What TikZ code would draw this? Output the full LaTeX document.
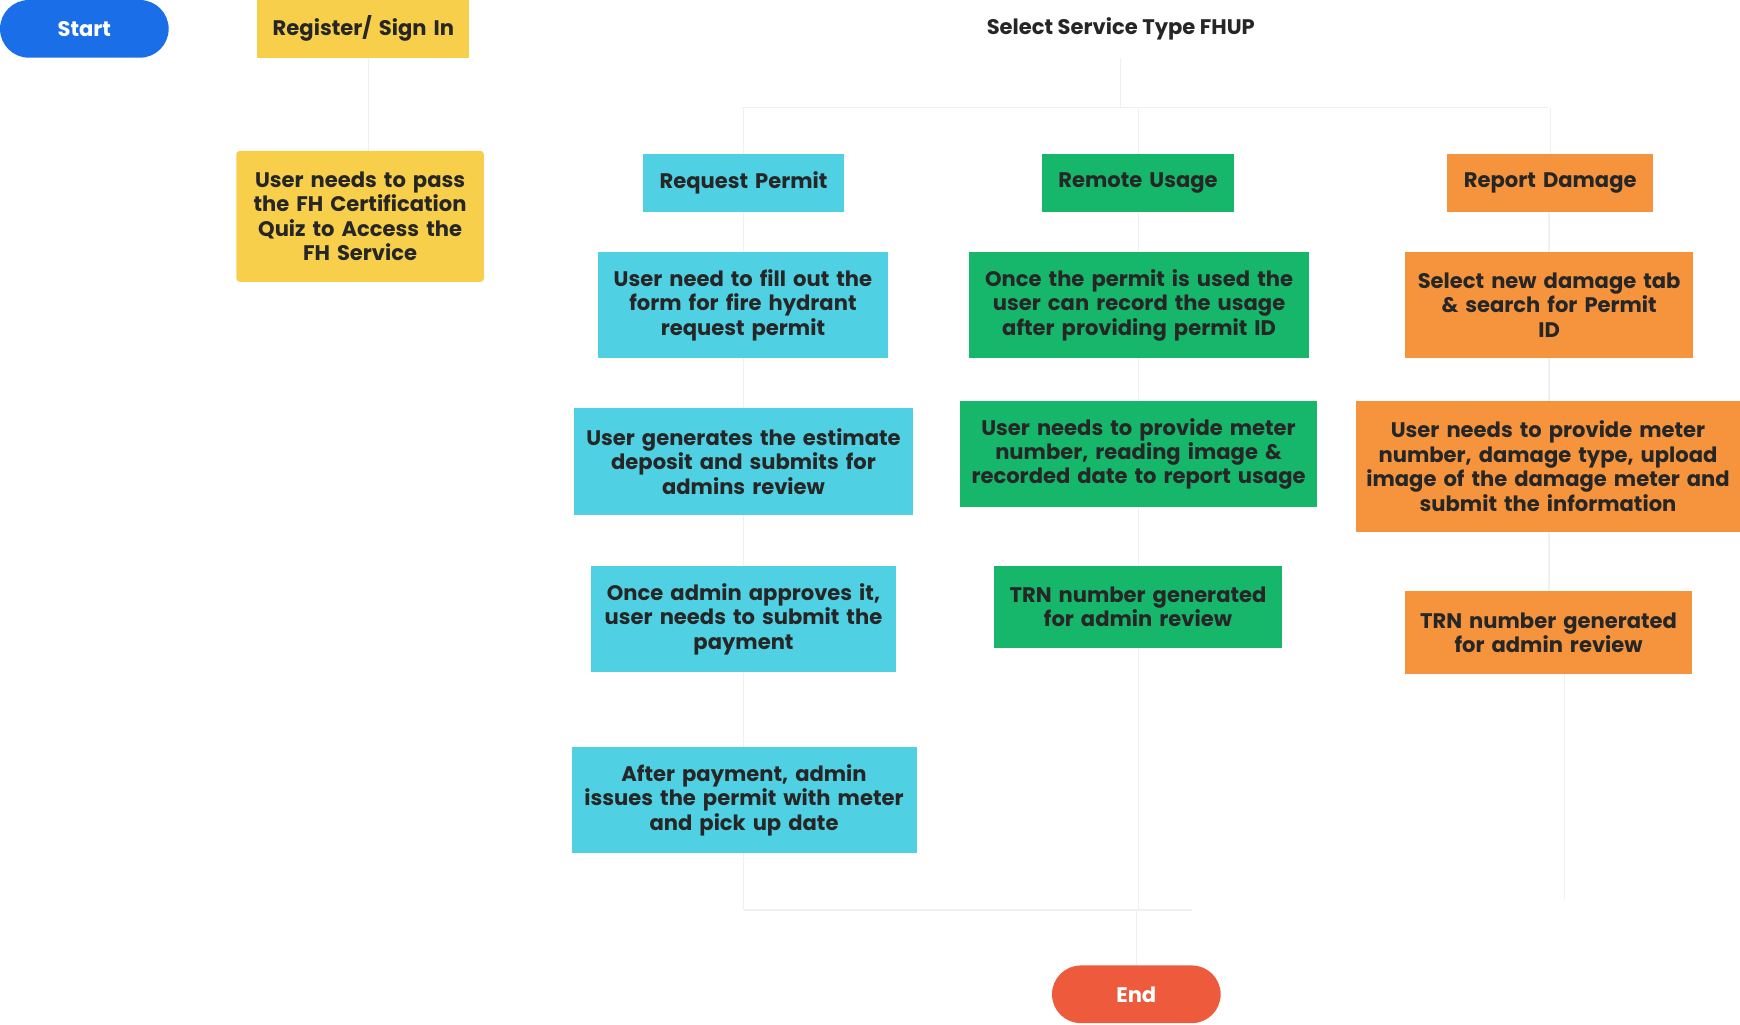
\documentclass[tikz,border=0pt]{standalone}
\usepackage{fontspec}
\setmainfont{Poppins}
\begin{document}
\begin{tikzpicture}[x=1pt,y=-1pt,
 box/.style={draw=none,align=center,font=\fontsize{19}{22}\selectfont\bfseries,text=black!85,inner sep=0pt},
 cy/.style={box,fill=cyan!60!white!95!black},
 ln/.style={draw=black!6,line width=1.2pt}]
\definecolor{cyb}{HTML}{4FD0E3}\definecolor{grb}{HTML}{16B76A}\definecolor{orb}{HTML}{F5943D}
\definecolor{yeb}{HTML}{F7CF4B}\definecolor{blb}{HTML}{1A6FE8}\definecolor{reb}{HTML}{EE5A3C}
\useasboundingbox (0,0) rectangle (1568,923);
\newcommand\bx[7]{\node[box,fill=#6,minimum width=#3-#2,minimum height=#5-#4,text width=#3-#2-24,#7] (#1) at ({(#2+#3)/2},{(#4+#5)/2}) {};}
\newcommand\bt[2]{\node[box,text width=330,text=black!85] at (#1) {#2};}
% connectors
\coordinate (s1) at (1010,52);\coordinate (s2) at (1010,97);
\coordinate (h1) at (668,97);\coordinate (h2) at (1395,97);
\draw[ln] (332,52) -- (332,136);
\draw[ln] (s1)--(s2) (h1)--(h2);
\draw[ln] (670,97)--(670,139) (1026,97)--(1026,139) (1397,97)--(1397,139);
\draw[ln] (670,191)--(670,227) (670,323)--(670,368) (670,464)--(670,510) (670,606)--(670,673) (670,769)--(670,820);
\draw[ln] (1026,191)--(1026,227) (1026,323)--(1026,361) (1026,457)--(1026,510) (1026,584)--(1026,820);
\draw[ln] (1396,191)--(1396,227) (1396,323)--(1396,361) (1396,479)--(1396,533) (1410,607)--(1410,810);
\draw[ln] (670,820)--(1074,820) (1024,820)--(1024,870);
% nodes
\node[box,fill=blb,rounded corners=26pt,minimum width=152,minimum height=52,text=white] (start) at (76,26) {Start};
\bx{reg}{232}{423}{0}{52}{yeb}{}\bt{reg}{Register/ Sign In}
\bx{quiz}{213}{436}{136}{254}{yeb}{rounded corners=3pt}\bt{quiz}{User needs to pass\\the FH Certification\\Quiz to Access the\\FH Service}
\node[box] (sel) at (1010,26) {Select Service Type FHUP};
\bx{rp}{579}{761}{139}{191}{cyb}{}\bt{rp}{Request Permit}
\bx{ru}{939}{1112}{139}{191}{grb}{}\bt{ru}{Remote Usage}
\bx{rd}{1304}{1490}{139}{191}{orb}{}\bt{rd}{Report Damage}
\bx{c1}{539}{800}{227}{323}{cyb}{}\bt{c1}{User need to fill out the\\form for fire hydrant\\request permit}
\bx{c2}{517}{823}{368}{464}{cyb}{}\bt{c2}{User generates the estimate\\deposit and submits for\\admins review}
\bx{c3}{533}{807}{510}{606}{cyb}{}\bt{c3}{Once admin approves it,\\user needs to submit the\\payment}
\bx{c4}{515}{826}{673}{769}{cyb}{}\bt{c4}{After payment, admin\\issues the permit with meter\\and pick up date}
\bx{g1}{873}{1180}{227}{323}{grb}{}\bt{g1}{Once the permit is used the\\user can record the usage\\after providing permit ID}
\bx{g2}{865}{1187}{361}{457}{grb}{}\bt{g2}{User needs to provide meter\\number, reading image \&\\recorded date to report usage}
\bx{g3}{896}{1155}{510}{584}{grb}{}\bt{g3}{TRN number generated\\for admin review}
\bx{o1}{1266}{1526}{227}{323}{orb}{}\bt{o1}{Select new damage tab\\\& search for Permit\\ID}
\bx{o2}{1222}{1568}{361}{479}{orb}{}\node[box,text width=340] at (o2) {User needs to provide meter\\number, damage type, upload\\image of the damage meter and\\submit the information};
\bx{o3}{1266}{1525}{533}{607}{orb}{}\bt{o3}{TRN number generated\\for admin review}
\node[box,fill=reb,rounded corners=26pt,minimum width=152,minimum height=52,text=white] (end) at (1024,896) {End};
\end{tikzpicture}
\end{document}
